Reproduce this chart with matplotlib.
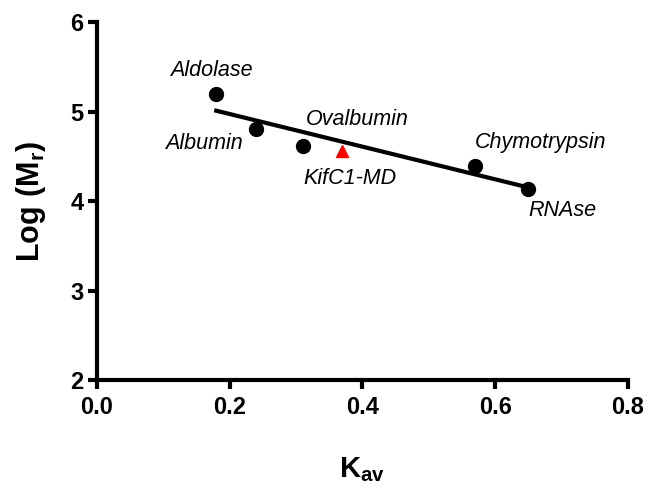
import numpy as np
import matplotlib
matplotlib.use("Agg")
import matplotlib.pyplot as plt

plt.rcParams["font.family"] = ["Liberation Sans", "DejaVu Sans"]
plt.rcParams["mathtext.fontset"] = "custom"
plt.rcParams["mathtext.bf"] = "Liberation Sans:bold"
plt.rcParams["mathtext.rm"] = "Liberation Sans"

# standards (Kav, log Mr)
proteins = ["Aldolase", "Albumin", "Ovalbumin", "Chymotrypsin", "RNAse"]
kav = [0.18, 0.24, 0.31, 0.57, 0.65]
log_mr = [5.19, 4.80, 4.62, 4.39, 4.13]

# unknown sample
sample_name = "KifC1-MD"
sample_kav = [0.37]
sample_log_mr = [4.56]

# label positions (data coords)
label_x = [0.172, 0.162, 0.393, 0.669, 0.701]
label_y = [5.46, 4.64, 4.91, 4.65, 3.89]
sample_label_xy = (0.381, 4.25)

fig, ax = plt.subplots(figsize=(6.54, 4.88), dpi=100)
fig.subplots_adjust(left=0.148, right=0.96, top=0.955, bottom=0.221)

# linear fit through the standards
slope, icpt = np.polyfit(kav, log_mr, 1)
xf = np.array([min(kav), max(kav)])
ax.plot(xf, slope * xf + icpt, color="black", lw=3, zorder=2)

ax.plot(kav, log_mr, "o", color="black", ms=10, zorder=3)
ax.plot(sample_kav, sample_log_mr, "^", color="red", ms=9, zorder=4)

for name, lx, ly in zip(proteins, label_x, label_y):
    ax.text(lx, ly, name, style="italic", fontsize=15.5, ha="center", va="center")
ax.text(sample_label_xy[0], sample_label_xy[1], sample_name, style="italic",
        fontsize=15.5, ha="center", va="center")

ax.set_xlim(0, 0.8)
ax.set_ylim(2, 6)
ax.set_xticks([0.0, 0.2, 0.4, 0.6, 0.8])
ax.set_yticks([2, 3, 4, 5, 6])
ax.xaxis.set_major_formatter(matplotlib.ticker.FormatStrFormatter("%.1f"))

for s in ["top", "right"]:
    ax.spines[s].set_visible(False)
for s in ["left", "bottom"]:
    ax.spines[s].set_linewidth(3)
ax.tick_params(width=3, length=6.5, labelsize=17, direction="out")
ax.tick_params(axis="x", pad=5)
ax.tick_params(axis="y", pad=3)
for lbl in ax.get_xticklabels() + ax.get_yticklabels():
    lbl.set_fontweight("bold")

ax.set_xlabel(r"$\mathbf{K_{av}}$", fontsize=21, labelpad=26)
ax.set_ylabel(r"$\mathbf{Log\ (M_r)}$", fontsize=22, labelpad=16)

fig.savefig("out.png", dpi=100)
